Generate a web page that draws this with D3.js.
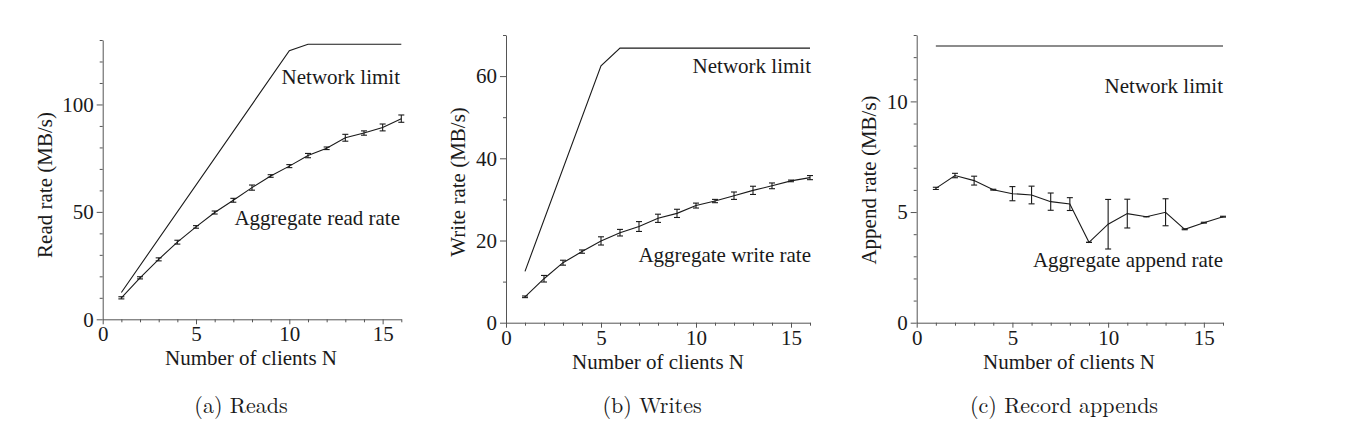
<!DOCTYPE html>
<html>
<head>
<meta charset="utf-8">
<script src="https://cdn.jsdelivr.net/npm/d3@7"></script>
<style>
  html, body { margin: 0; padding: 0; background: #fff; }
  svg { display: block; }
  svg text { font-family: "Liberation Serif"; }
  svg text.cap { font-family: "Latin Modern Roman"; }
</style>
</head>
<body>
<svg id="chart" width="1348" height="444"></svg>
<script>
// ---------- data ----------
const clients = [1,2,3,4,5,6,7,8,9,10,11,12,13,14,15,16];

const readRate  = [10.0,19.3,27.9,35.9,43.0,49.7,55.4,61.3,66.7,71.3,76.2,79.6,84.5,86.7,89.3,93.4];
const readErr   = [0.5,0.5,0.7,0.9,0.6,0.7,0.9,1.2,0.6,0.7,1.0,0.6,1.6,1.0,1.6,1.7];
const readLimitN = [1,10,11,16];
const readLimit  = [12.5,125,128,128];

const writeRate = [6.3,10.7,14.6,17.3,19.9,21.9,23.4,25.4,26.6,28.5,29.6,30.9,32.2,33.3,34.5,35.3];
const writeErr  = [0.2,0.8,0.6,0.4,1.0,0.8,1.2,1.0,1.0,0.6,0.4,0.9,1.0,0.7,0.2,0.5];
const writeLimitN = [1,5,6,16];
const writeLimit  = [12.5,62.5,66.8,66.8];

const appendRate = [6.07,6.65,6.42,6.01,5.83,5.77,5.47,5.36,3.63,4.45,4.93,4.79,4.99,4.22,4.52,4.79];
const appendErr  = [0.05,0.1,0.2,0.02,0.32,0.4,0.39,0.29,0.0,1.12,0.65,0.0,0.61,0.02,0.02,0.02];
const appendLimitN = [1,16];
const appendLimit  = [12.5,12.5];

const xTicks = [0,5,10,15];
const readTicks = [0,50,100];
const writeTicks = [0,20,40,60];
const appendTicks = [0,5,10];

const panels = [
  { x: [102.7, 401.3], y: [319.3, 40], ymax: 130, ticks: readTicks, minorStep: 10,
    rate: readRate, err: readErr, limN: readLimitN, lim: readLimit,
    ytitle: "Read rate (MB/s)", yt: [45, 185],
    netLabel: [400, 84], aggLabel: [400, 225], aggText: "Aggregate read rate",
    xtitle: [251, 365], caption: "(a) Reads", capX: 241 },
  { x: [506, 810], y: [322.7, 35], ymax: 70, ticks: writeTicks, minorStep: 10,
    rate: writeRate, err: writeErr, limN: writeLimitN, lim: writeLimit,
    ytitle: "Write rate (MB/s)", yt: [458, 182],
    netLabel: [811, 73], aggLabel: [811, 262], aggText: "Aggregate write rate",
    xtitle: [658, 369], caption: "(b) Writes", capX: 652 },
  { x: [916.7, 1223], y: [322.7, 35], ymax: 13, ticks: appendTicks, minorStep: 1,
    rate: appendRate, err: appendErr, limN: appendLimitN, lim: appendLimit,
    ytitle: "Append rate (MB/s)", yt: [869, 180],
    netLabel: [1223, 93], aggLabel: [1223, 267], aggText: "Aggregate append rate",
    xtitle: [1069, 369], caption: "(c) Record appends", capX: 1064 }
];

const svg = d3.select("#chart");
const ink = "#1a1a1a";
const axisInk = "#555";
const FS = "21px";

function styleText(sel, size) {
  return sel.style("font-size", size || FS).attr("fill", ink);
}

panels.forEach(p => {
  const x = d3.scaleLinear().domain([0,16]).range(p.x);
  const y = d3.scaleLinear().domain([0,p.ymax]).range(p.y);
  const g = svg.append("g");

  // minor x ticks
  const xMinor = d3.range(0,17,1).filter(v => !xTicks.includes(v));
  g.append("g").attr("transform", `translate(0,${p.y[0]})`)
    .call(d3.axisBottom(x).tickValues(xMinor).tickSize(3).tickFormat(""))
    .call(a => a.select(".domain").remove())
    .call(a => a.selectAll("line").attr("stroke", axisInk));
  // major x axis
  g.append("g").attr("transform", `translate(0,${p.y[0]})`)
    .call(d3.axisBottom(x).tickValues(xTicks).tickSize(5).tickSizeOuter(0).tickPadding(2))
    .call(a => a.attr("font-family", null).attr("font-size", null))
    .call(a => a.select(".domain").attr("stroke", axisInk))
    .call(a => a.selectAll("line").attr("stroke", axisInk))
    .call(a => styleText(a.selectAll("text")));

  // minor y ticks
  const yMinor = d3.range(0, p.ymax + p.minorStep/2, p.minorStep).filter(v => !p.ticks.includes(v));
  g.append("g").attr("transform", `translate(${p.x[0]},0)`)
    .call(d3.axisLeft(y).tickValues(yMinor).tickSize(3).tickFormat(""))
    .call(a => a.select(".domain").remove())
    .call(a => a.selectAll("line").attr("stroke", axisInk));
  // major y axis
  g.append("g").attr("transform", `translate(${p.x[0]},0)`)
    .call(d3.axisLeft(y).tickValues(p.ticks).tickSize(6).tickSizeOuter(0).tickPadding(3))
    .call(a => a.attr("font-family", null).attr("font-size", null))
    .call(a => a.select(".domain").attr("stroke", axisInk))
    .call(a => a.selectAll("line").attr("stroke", axisInk))
    .call(a => styleText(a.selectAll("text")));

  // network limit line
  const limData = p.limN.map((n,i) => [n, p.lim[i]]);
  g.append("path").datum(limData)
    .attr("fill", "none").attr("stroke", ink).attr("stroke-width", 1.1)
    .attr("d", d3.line().x(d => x(d[0])).y(d => y(d[1])));

  // aggregate line
  const agg = clients.map((n,i) => ({n, v: p.rate[i], e: p.err[i]}));
  g.append("path").datum(agg)
    .attr("fill", "none").attr("stroke", ink).attr("stroke-width", 1.1)
    .attr("d", d3.line().x(d => x(d.n)).y(d => y(d.v)));

  // error bars
  const eb = g.append("g").attr("stroke", ink).attr("stroke-width", 1.1);
  agg.forEach(d => {
    const cx = x(d.n), y1 = y(d.v - d.e), y2 = y(d.v + d.e);
    eb.append("line").attr("x1", cx).attr("x2", cx).attr("y1", y1).attr("y2", y2);
    eb.append("line").attr("x1", cx-3).attr("x2", cx+3).attr("y1", y1).attr("y2", y1);
    eb.append("line").attr("x1", cx-3).attr("x2", cx+3).attr("y1", y2).attr("y2", y2);
  });

  // labels
  styleText(g.append("text").attr("x", p.netLabel[0]).attr("y", p.netLabel[1])
    .attr("text-anchor", "end")).text("Network limit");
  styleText(g.append("text").attr("x", p.aggLabel[0]).attr("y", p.aggLabel[1])
    .attr("text-anchor", "end")).text(p.aggText);

  // axis titles
  styleText(g.append("text").attr("x", p.xtitle[0]).attr("y", p.xtitle[1])
    .attr("text-anchor", "middle")).text("Number of clients N");
  styleText(g.append("text")
    .attr("transform", `translate(${p.yt[0]},${p.yt[1]}) rotate(-90)`)
    .attr("text-anchor", "middle").attr("dy", "0.35em")).text(p.ytitle);

  // caption
  styleText(g.append("text").attr("class", "cap").attr("x", p.capX).attr("y", 413)
    .attr("text-anchor", "middle"), "22px").text(p.caption);
});
</script>
</body>
</html>
